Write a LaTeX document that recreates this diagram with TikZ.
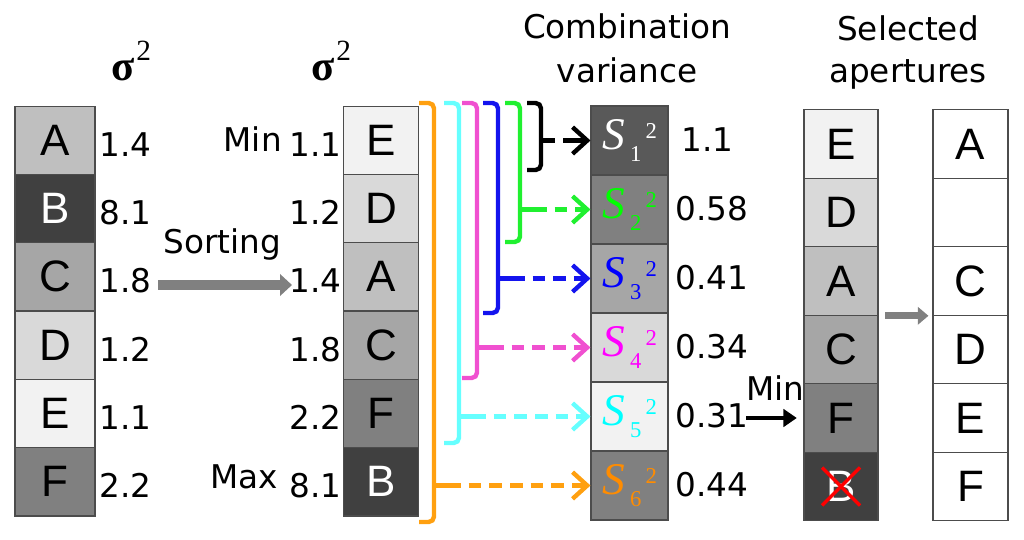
\documentclass[tikz,border=0pt]{standalone}
\usepackage{fontspec}
\setmainfont{DejaVu Sans}
\newfontfamily\boxfont{Liberation Sans}
\newfontfamily\seriffont{Liberation Serif}
\usetikzlibrary{arrows.meta}

\definecolor{gE}{HTML}{F2F2F2}
\definecolor{gD}{HTML}{D9D9D9}
\definecolor{gA}{HTML}{BFBFBF}
\definecolor{gC}{HTML}{A6A6A6}
\definecolor{gF}{HTML}{808080}
\definecolor{gB}{HTML}{404040}
\definecolor{gS}{HTML}{595959}
\definecolor{borange}{HTML}{FFA010}
\definecolor{bcyan}{HTML}{66FFFF}
\definecolor{bmag}{HTML}{F050D0}
\definecolor{bblue}{HTML}{1414EE}
\definecolor{bgreen}{HTML}{20F030}
\definecolor{sgreen}{HTML}{00FF00}
\definecolor{sblue}{HTML}{0000FF}
\definecolor{smag}{HTML}{FF00FF}
\definecolor{scyan}{HTML}{00FFFF}
\definecolor{sorange}{HTML}{FF8C00}

\tikzstyle{cell}=[draw=black!70,line width=0.8pt,inner sep=0pt,minimum height=51.25pt,font=\boxfont\fontsize{33}{33}\selectfont]
\tikzstyle{val}=[inner sep=0pt,font=\fontsize{24.5}{26}\selectfont]
\tikzstyle{brk}=[line width=3.3pt,rounded corners=4pt]
\tikzstyle{comb}=[line width=3.3pt,dash pattern=on 9.5pt off 6pt,-{Straight Barb[length=11pt,width=20pt]}]
\tikzstyle{grayarrow}=[draw=gF,line width=8pt,-{Triangle[length=9pt,width=16pt]}]
\newcommand{\sigsq}{{\seriffont\bfseries\fontsize{32}{32}\selectfont σ}\hspace{1.5pt}\raisebox{15pt}{\seriffont\fontsize{22}{22}\selectfont 2}}
\newcommand{\svar}[1]{{\seriffont\itshape\fontsize{34}{34}\selectfont S}\hspace{4pt}\raisebox{-9pt}{\seriffont\fontsize{17}{17}\selectfont #1}\hspace{3pt}\raisebox{8pt}{\seriffont\fontsize{17}{17}\selectfont 2}}

\begin{document}
\begin{tikzpicture}[x=0.75pt,y=-0.75pt]
    \useasboundingbox (0,0) rectangle (1024,539);
    % First the apertures as they come, with their variance
    \node (sig1) at (131,61) {\sigsq};
    \foreach \y/\name/\fc/\tc/\v in {140.2/A/gA/black/1.4, 208.5/B/gB/white/8.1, 276.8/C/gC/black/1.8, 345.2/D/gD/black/1.2, 413.5/E/gE/black/1.1, 481.8/F/gF/black/2.2}
    {
        \node[cell, minimum width=60pt, fill=\fc, text=\tc] (u\name) at (55,\y) {\name};
        \node[val, anchor=base west] (uv\name) at (99,\y+16) {\v};
    }
    % Sorting step
    \node[val, anchor=base] (sortlab) at (222,253) {Sorting};
    \coordinate (sortstart) at (158,285);
    \coordinate (sortend) at (292,285);
    \draw[grayarrow] (sortstart) -- (sortend);
    % Sorted apertures
    \node (sig2) at (331,61) {\sigsq};
    \foreach \y/\name/\fc/\tc/\v in {140.2/E/gE/black/1.1, 208.5/D/gD/black/1.2, 276.8/A/gA/black/1.4, 345.2/C/gC/black/1.8, 413.5/F/gF/black/2.2, 481.8/B/gB/white/8.1}
    {
        \node[cell, minimum width=56.25pt, fill=\fc, text=\tc] (o\name) at (381,\y) {\name};
        \node[val, anchor=base east] (ov\name) at (342,\y+16) {\v};
    }
    \node[val, anchor=base east] (minlab) at (282,151) {Min};
    \node[val, anchor=base east] (maxlab) at (278,488) {Max};
    % Combination variances
    \node[val, anchor=base] (comb1) at (627,38) {Combination};
    \node[val, anchor=base] (comb2) at (627,82) {variance};
    \foreach \i/\y/\fc/\sc/\v/\vx in {1/140.5/gS/white/1.1/681, 2/209.5/gF/sgreen/0.58/675, 3/278.5/gC/sblue/0.41/675, 4/347.5/gD/smag/0.34/675, 5/416.5/gE/scyan/0.31/675, 6/485.5/gF/sorange/0.44/675}
    {
        \node[cell, minimum width=57.75pt, minimum height=51.75pt, fill=\fc, text=\sc] (s\i) at (629.5,\y) {\svar{\i}};
        \node[val, anchor=base west] (sv\i) at (\vx,\y+11) {\v};
    }
    % Brackets that group the sorted apertures
    \foreach \vx/\bot/\col/\i in {434/522/borange/6, 459/443/bcyan/5, 477/378/bmag/4, 498/313/bblue/3, 520/242/bgreen/2}
    {
        \draw[brk, \col] (\vx-15,103) -- (\vx,103) -- (\vx,\bot) -- (\vx-15,\bot);
        \coordinate (k\i) at (\vx,0);
        \draw[brk, \col] (k\i |- s\i.west) -- ++(14,0) coordinate (d\i);
        \draw[comb, \col] (d\i) -- (s\i.west);
    }
    \draw[brk] (527,103) -- (541,103) -- (541,170) -- (527,170);
    \coordinate (k1) at (541,0);
    \draw[brk] (k1 |- s1.west) -- ++(14,0) coordinate (d1);
    \draw[line width=3.3pt, -{Straight Barb[length=11pt,width=20pt]}] ([xshift=6pt]d1) -- (s1.west);
    % Selected apertures
    \node[val, anchor=base] (sel1) at (908,40) {Selected};
    \node[val, anchor=base] (sel2) at (908,82) {apertures};
    \foreach \y/\name/\fc/\tc in {144/E/gE/black, 212.5/D/gD/black, 281/A/gA/black, 349.5/C/gC/black, 418/F/gF/black, 486.5/B/gB/white}
        \node[cell, minimum width=55.5pt, minimum height=51.4pt, fill=\fc, text=\tc] (p\name) at (841,\y) {\name};
    \draw[red, line width=2.5pt] ([shift={(-19,-19)}]pB.center) -- ([shift={(19,19)}]pB.center);
    \draw[red, line width=2.5pt] ([shift={(19,-19)}]pB.center) -- ([shift={(-19,19)}]pB.center);
    \coordinate (minstart) at (746,0);
    \draw[line width=3pt, -{Triangle[length=10pt,width=13pt]}] (minstart |- pF.west) -- ([xshift=-5pt]pF.west);
    \node[val, anchor=base] (minsel) at (775,400) {Min};
    % Final order
    \foreach \y/\name/\lab in {144/1/A, 212.5/2/, 281/3/C, 349.5/4/D, 418/5/E, 486.5/6/F}
        \node[cell, minimum width=56.25pt, minimum height=51.4pt, fill=white] (q\name) at (970.5,\y) {\lab};
    \draw[grayarrow, line width=5.5pt, -{Triangle[length=8pt,width=13pt]}] ([xshift=5pt]pA.south east) -- ([xshift=-3pt]pA.south east -| q3.west);
\end{tikzpicture}
\end{document}
